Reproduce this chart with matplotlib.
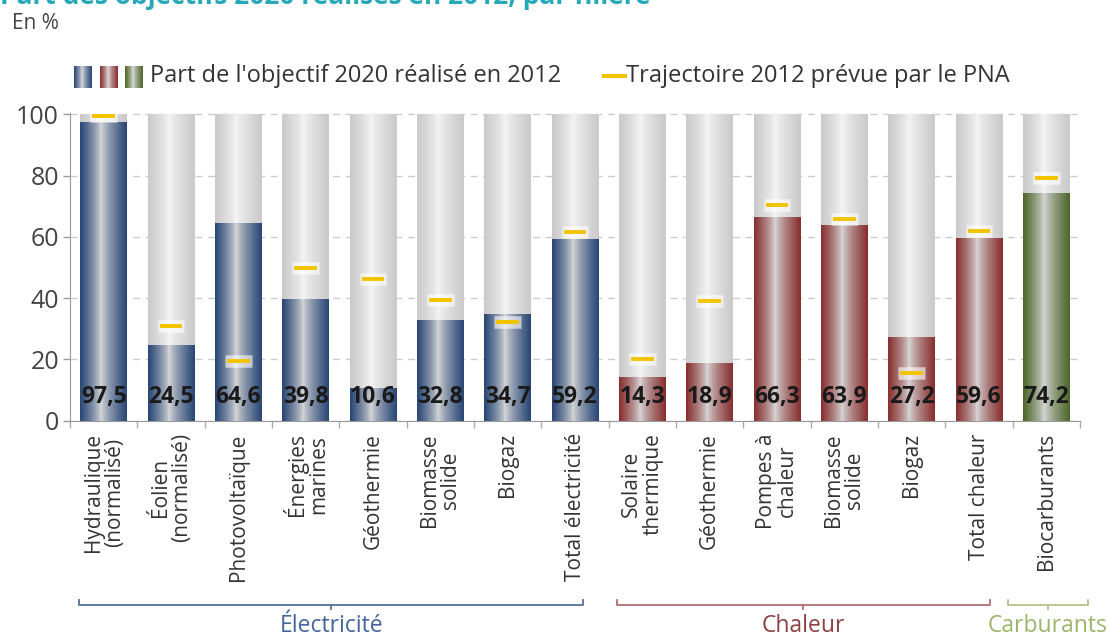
import numpy as np
import matplotlib
matplotlib.use("Agg")
import matplotlib.pyplot as plt
from matplotlib.colors import LinearSegmentedColormap

plt.rcParams['font.family'] = ['Open Sans', 'DejaVu Sans']

# data
categories = ["Hydraulique\n(normalisé)", "Éolien\n(normalisé)", "Photovoltaïque",
              "Énergies\nmarines", "Géothermie", "Biomasse\nsolide", "Biogaz",
              "Total électricité", "Solaire\nthermique", "Géothermie", "Pompes à\nchaleur",
              "Biomasse\nsolide", "Biogaz", "Total chaleur", "Biocarburants"]
realise = [97.5, 24.5, 64.6, 39.8, 10.6, 32.8, 34.7, 59.2,
           14.3, 18.9, 66.3, 63.9, 27.2, 59.6, 74.2]
trajectoire = [99.3, 31.0, 19.5, 49.8, 46.3, 39.4, 32.2, 61.6,
               20.2, 39.0, 70.4, 65.8, 15.6, 61.9, 79.2]
groupe = ["elec"] * 8 + ["chal"] * 6 + ["carb"]
groupes = ["Électricité", "Chaleur", "Carburants"]
bornes = [(-0.36, 7.12), (7.62, 13.16), (13.43, 14.62)]

edge_col = {"elec": "#2a4776", "chal": "#883030", "carb": "#4f672c"}
txt_col = {"Électricité": "#44659a", "Chaleur": "#8e4040", "Carburants": "#9db46a"}
brk_col = {"Électricité": "#55709c", "Chaleur": "#b07070", "Carburants": "#b5c48a"}
jaune = "#f2c400"


def grad_cmap(dark, light):
    return LinearSegmentedColormap.from_list("g", [light, dark])


t = np.linspace(0, 1, 64)
profil = np.where(t < 0.45, (0.45 - t) / 0.45, (t - 0.45) / 0.55) ** 0.75
profil = profil.reshape(1, -1)

fig = plt.figure(figsize=(11.2, 6.38), dpi=100)
ax = fig.add_axes([0.0625, 0.3406, 0.9018, 0.4828])

x = np.arange(len(categories))
w = 0.69
fond = grad_cmap("#cacaca", "#f5f5f5")
for i in x:
    ax.imshow(profil, extent=(i - w / 2, i + w / 2, 0, 100), cmap=fond,
              aspect='auto', zorder=2, vmin=0, vmax=1)
    cm = grad_cmap(edge_col[groupe[i]], "#d9d9d9")
    ax.imshow(profil, extent=(i - w / 2, i + w / 2, 0, realise[i]), cmap=cm,
              aspect='auto', zorder=3, vmin=0, vmax=1)
    ax.text(i, 7.7, f"{realise[i]:.1f}".replace(".", ","), ha='center', va='center',
            fontsize=16.5, fontweight='bold', color="#1a1a1a", zorder=6)

ax.hlines(trajectoire, x - 0.2, x + 0.2, colors="white", lw=9, alpha=0.6, zorder=4)
ax.hlines(trajectoire, x - 0.17, x + 0.17, colors=jaune, lw=2.8, zorder=5)

ax.set_xlim(-0.5, 14.5)
ax.set_ylim(0, 100.5)
ax.set_yticks([0, 20, 40, 60, 80, 100])
ax.yaxis.grid(True, linestyle=(0, (5, 4)), color="#cccccc", lw=1, zorder=0)
ax.set_axisbelow(True)
ax.tick_params(axis='y', labelsize=18, labelcolor="#444444", color="#999999",
               length=5, width=1, pad=3)
ax.set_xticks(x)
ax.set_xticklabels(categories, rotation=90, fontsize=15, color="#333333",
                   va='top', ha='center', multialignment='center', linespacing=1.0)
ax.tick_params(axis='x', which='major', length=0, pad=9)
ax.set_xticks(np.arange(-0.5, 15, 1), minor=True)
ax.tick_params(axis='x', which='minor', length=5, color="#aaaaaa", width=1)
for s in ["top", "right"]:
    ax.spines[s].set_visible(False)
ax.spines["left"].set_color("#999999")
ax.spines["bottom"].set_color("#999999")

# accolades des groupes
tr = ax.get_xaxis_transform()
yb, yl = -0.598, -0.665
for nom, (a, b) in zip(groupes, bornes):
    c = brk_col[nom]
    m = (a + b) / 2
    ax.plot([a, a, b, b], [yb + 0.016, yb, yb, yb + 0.016], transform=tr,
            color=c, lw=1.3, clip_on=False)
    ax.plot([m, m], [yb, yb - 0.013], transform=tr, color=c, lw=1.3, clip_on=False)
    ax.text(m, yl, nom, transform=tr, ha='center', va='center', fontsize=16.5,
            color=txt_col[nom], clip_on=False)

# titre (coupé en haut comme l'original), unité, légende
fig.text(0.0, 1.006, "Part des objectifs 2020 réalisés en 2012, par filière",
         ha='left', va='center', fontsize=19, fontweight='bold', color="#27a8b8")
fig.text(0.011, 0.963, "En %", ha='left', va='center', fontsize=15, color="#444444")

lax = fig.add_axes([0, 0, 1, 1])
lax.set_xlim(0, 1120)
lax.set_ylim(638, 0)
lax.axis('off')
for k, g in enumerate(["elec", "chal", "carb"]):
    x0 = 74 + k * 25.5
    lax.imshow(profil, extent=(x0, x0 + 18, 88, 66), cmap=grad_cmap(edge_col[g], "#dedede"),
               aspect='auto', vmin=0, vmax=1)
lax.text(150, 76, "Part de l'objectif 2020 réalisé en 2012", ha='left', va='center',
         fontsize=17, color="#333333")
lax.plot([604, 625], [76, 76], color=jaune, lw=3)
lax.text(626, 76, "Trajectoire 2012 prévue par le PNA", ha='left', va='center',
         fontsize=17, color="#333333")
lax.set_xlim(0, 1120)
lax.set_ylim(638, 0)

fig.savefig("out.png", dpi=100, facecolor="white")
